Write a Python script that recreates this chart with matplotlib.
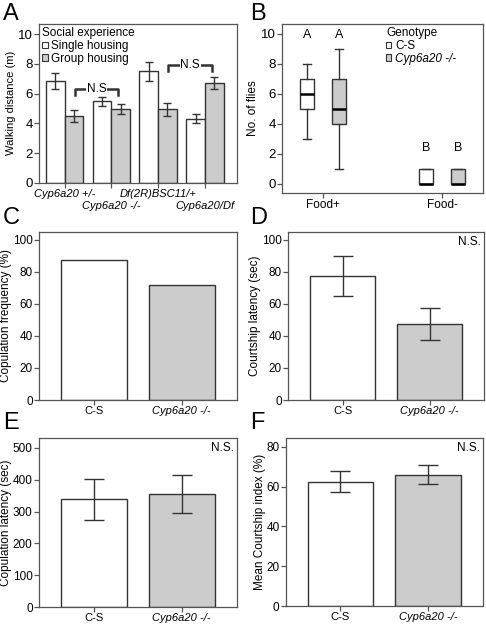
import numpy as np
import matplotlib
matplotlib.use("Agg")
import matplotlib.pyplot as plt
from matplotlib.patches import Patch

plt.rcParams['font.family'] = ['Liberation Sans', 'DejaVu Sans']
plt.rcParams['font.size'] = 8

# ---- data ----
# Panel A: walking distance
genotypes_a = ["Cyp6a20 +/-", "Cyp6a20 -/-", "Df(2R)BSC11/+", "Cyp6a20/Df"]
single_mean = [6.85, 5.5, 7.5, 4.3]
single_err = [0.55, 0.3, 0.65, 0.3]
group_mean = [4.5, 4.95, 4.95, 6.7]
group_err = [0.4, 0.35, 0.45, 0.4]
ns_pairs_a = [(0, 1), (2, 3)]
ns_height_a = [6.3, 7.9]

# Panel B: number of flies (box stats: whislo, q1, med, q3, whishi)
food_cats = ["Food+", "Food-"]
cs_box = [(3, 5, 6, 7, 8), (0, 0, 0, 1, 1)]
cyp_box = [(1, 4, 5, 7, 9), (0, 0, 0, 1, 1)]
letters_b = [("A", "A"), ("B", "B")]
letter_y_b = [9.5, 2.0]

# Panels C-F
geno_cf = ["C-S", "Cyp6a20 -/-"]
cop_freq = [87.5, 71.5]
court_lat = [77.5, 47.5]
court_lat_err = [12.5, 10.0]
cop_lat = [338, 355]
cop_lat_err = [65, 60]
court_idx = [62.5, 66.0]
court_idx_err = [5.3, 4.7]

WHITE = "white"
GRAY = "#cccccc"
EDGE = "#333333"
SPINE = "#555555"

fig = plt.figure(figsize=(4.86, 6.28), dpi=100)


def style_axes(ax, ysize=9.5):
    for s in ax.spines.values():
        s.set_color(SPINE)
        s.set_linewidth(0.9)
    ax.tick_params(axis='both', direction='out', length=3.5, width=0.9,
                   color=SPINE, pad=1)
    ax.tick_params(axis='y', right=False, labelsize=ysize)


# ---- Panel A ----
axA = fig.add_axes([0.080, 0.709, 0.407, 0.253])
x = np.arange(len(genotypes_a))
w = 0.4
axA.bar(x - w / 2, single_mean, w, yerr=single_err, color=WHITE, edgecolor=EDGE,
        linewidth=1, error_kw=dict(ecolor=EDGE, elinewidth=1, capsize=3, capthick=1))
axA.bar(x + w / 2, group_mean, w, yerr=group_err, color=GRAY, edgecolor=EDGE,
        linewidth=1, error_kw=dict(ecolor=EDGE, elinewidth=1, capsize=3, capthick=1))
axA.set_xlim(-0.55, 3.68)
axA.set_ylim(0, 10.7)
axA.set_yticks([0, 2, 4, 6, 8, 10])
axA.set_ylabel("Walking distance (m)", fontsize=8, labelpad=1)
style_axes(axA)
axA.set_xticks(x)
axA.set_xticklabels(genotypes_a, fontstyle='italic', fontsize=8)
for i, t in enumerate(axA.xaxis.get_major_ticks()):
    if i % 2 == 1:
        t.tick1line.set_markersize(14)
        t.set_pad(10)
for (a, b), h in zip(ns_pairs_a, ns_height_a):
    x0, x1 = a + 0.22, b + 0.15
    axA.plot([x0, x0, x1, x1], [h - 0.4, h, h, h - 0.4], color=EDGE, lw=1.8)
    axA.text((x0 + x1) / 2, h, "N.S", ha='center', va='center', fontsize=8.5,
             bbox=dict(facecolor='white', edgecolor='none', pad=0.5))
hA = [Patch(facecolor=WHITE, edgecolor=EDGE, lw=0.8),
      Patch(facecolor=GRAY, edgecolor=EDGE, lw=0.8)]
legA = axA.legend(hA, ["Single housing", "Group housing"], title="Social experience",
                  loc='upper left', frameon=False, fontsize=8.5, title_fontsize=8.5,
                  handlelength=0.45, handleheight=0.45, handletextpad=0.3,
                  labelspacing=0.05, borderaxespad=0.2, borderpad=0.1,
                  alignment='left')

# ---- Panel B ----
axB = fig.add_axes([0.580, 0.693, 0.414, 0.269])
xb = np.arange(len(food_cats))
off = 0.135
bw = 0.12


def to_stats(vals):
    return [dict(whislo=v[0], q1=v[1], med=v[2], q3=v[3], whishi=v[4], fliers=[])
            for v in vals]


for stats, dx, fc in [(cs_box, -off, WHITE), (cyp_box, off, GRAY)]:
    axB.bxp(to_stats(stats), positions=xb + dx, widths=bw, patch_artist=True,
            showfliers=False,
            boxprops=dict(facecolor=fc, edgecolor=EDGE, linewidth=1),
            medianprops=dict(color='black', linewidth=1.8),
            whiskerprops=dict(color=EDGE, linewidth=1),
            capprops=dict(color=EDGE, linewidth=1), capwidths=0.07)
for i, (l1, l2) in enumerate(letters_b):
    axB.text(xb[i] - off, letter_y_b[i], l1, ha='center', va='bottom', fontsize=9)
    axB.text(xb[i] + off, letter_y_b[i], l2, ha='center', va='bottom', fontsize=9)
axB.set_xlim(-0.345, 1.345)
axB.set_ylim(-0.6, 10.67)
axB.set_yticks([0, 2, 4, 6, 8, 10])
axB.set_xticks(xb)
axB.set_xticklabels(food_cats, fontsize=8.5)
axB.set_ylabel("No. of flies", fontsize=8.5, labelpad=1)
style_axes(axB)
hB = [Patch(facecolor=WHITE, edgecolor=EDGE, lw=0.8),
      Patch(facecolor=GRAY, edgecolor=EDGE, lw=0.8)]
legB = axB.legend(hB, ["C-S", "Cyp6a20 -/-"], title="Genotype",
                  loc='upper left', frameon=False, fontsize=8.5, title_fontsize=8.5,
                  handlelength=0.45, handleheight=0.45, handletextpad=0.3,
                  labelspacing=0.05, borderaxespad=0.2, borderpad=0.1,
                  alignment='left', bbox_to_anchor=(0.5, 1.0))
legB.get_texts()[1].set_fontstyle('italic')


# ---- Panels C-F ----
def bar_panel(rect, vals, errs, ylim, yticks, ylabel, ns=False):
    ax = fig.add_axes(rect)
    xc = np.arange(len(geno_cf))
    kw = {}
    if errs is not None:
        kw = dict(yerr=errs, error_kw=dict(ecolor=EDGE, elinewidth=1, capsize=7, capthick=1))
    ax.bar(xc, vals, 0.75, color=[WHITE, GRAY], edgecolor=EDGE, linewidth=1, **kw)
    ax.set_xlim(-0.625, 1.625)
    ax.set_ylim(*ylim)
    ax.set_yticks(yticks)
    ax.set_xticks(xc)
    ax.set_xticklabels(geno_cf, fontsize=8)
    ax.get_xticklabels()[1].set_fontstyle('italic')
    ax.set_ylabel(ylabel, fontsize=8.5, labelpad=0.5)
    style_axes(ax, ysize=8.5)
    if ns:
        ax.text(0.985, 0.975, "N.S.", transform=ax.transAxes, ha='right', va='top',
                fontsize=8.5)
    return ax


axC = bar_panel([0.080, 0.363, 0.407, 0.268], cop_freq, None, (0, 105),
                [0, 20, 40, 60, 80, 100], "Copulation frequency (%)")
axD = bar_panel([0.593, 0.363, 0.403, 0.268], court_lat, court_lat_err, (0, 105),
                [0, 20, 40, 60, 80, 100], "Courtship latency (sec)", ns=True)
axE = bar_panel([0.080, 0.0334, 0.407, 0.269], cop_lat, cop_lat_err, (0, 531),
                [0, 100, 200, 300, 400, 500], "Copulation latency (sec)", ns=True)
axF = bar_panel([0.588, 0.035, 0.405, 0.2675], court_idx, court_idx_err, (0, 84.5),
                [0, 20, 40, 60, 80], "Mean Courtship index (%)", ns=True)

# panel letters
for lab, (px, py) in zip("ABCDEF", [(3, 3), (250, 3), (3, 207), (250, 207), (3, 412), (250, 412)]):
    fig.text(px / 486, 1 - py / 628, lab, fontsize=17, ha='left', va='top')

fig.savefig("out.png", dpi=100)
